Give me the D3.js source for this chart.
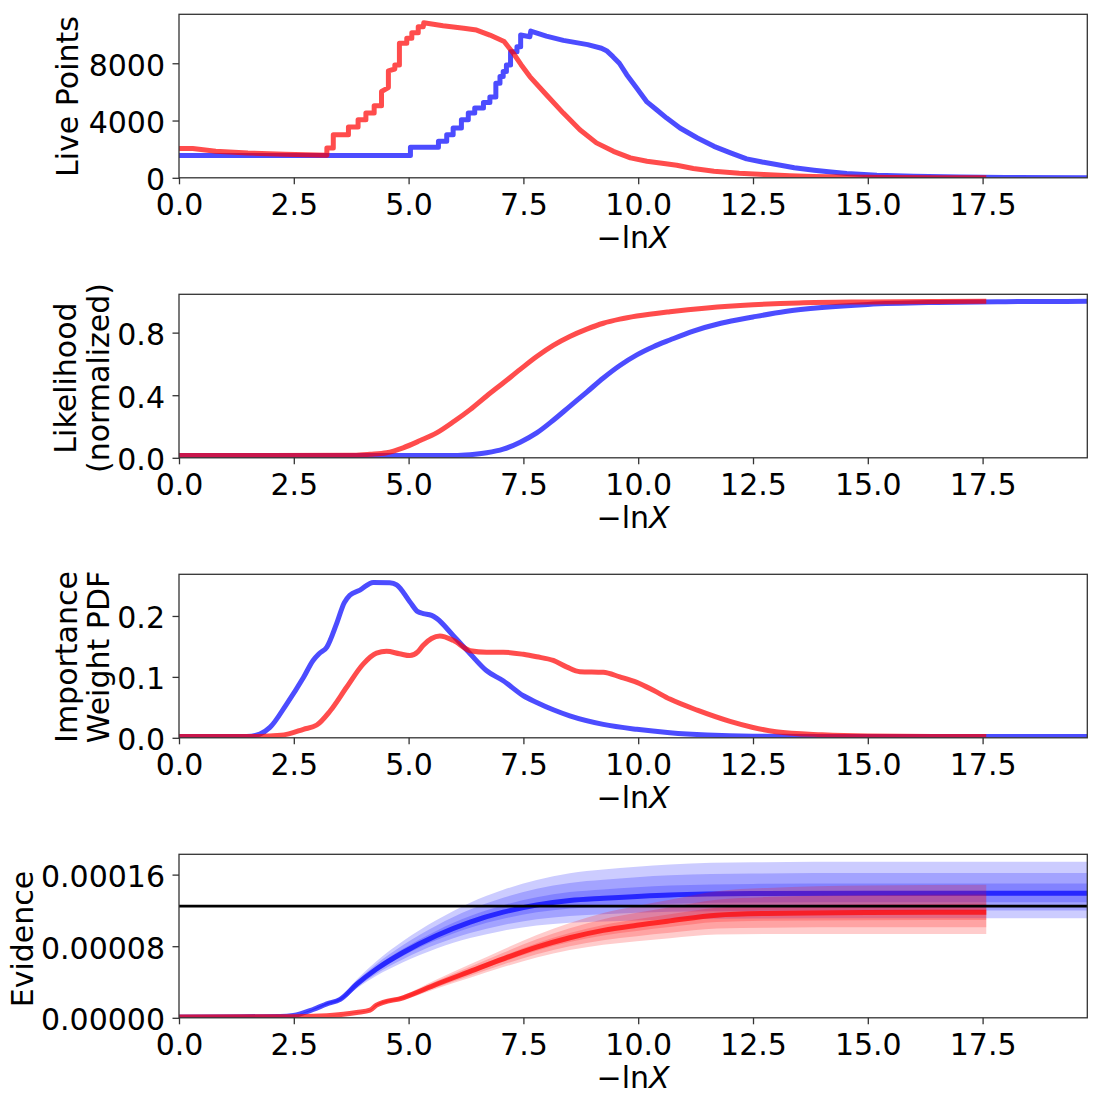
<!DOCTYPE html>
<html>
<head>
<meta charset="utf-8">
<script src="https://cdn.jsdelivr.net/npm/d3@7"></script>
<style>
  body { margin: 0; background: #fff; }
  svg { font-family: "DejaVu Sans", sans-serif; }
</style>
</head>
<body>
<div id="chart"></div>
<script>
// x axis: -ln X
const xTickVals = [0, 2.5, 5, 7.5, 10, 12.5, 15, 17.5];
const lnXMax = 19.78;

// live points [-lnX, n]
const liveBlue = [[0,1550],[5.04,1550],[5.04,2130],[5.65,2130],[5.65,2550],[5.83,2550],[5.83,3010],[5.97,3010],[5.97,3480],[6.15,3480],[6.15,4060],[6.30,4060],[6.30,4520],[6.44,4520],[6.44,4870],[6.63,4870],[6.63,5260],[6.77,5260],[6.77,5640],[6.90,5640],[6.90,6610],[6.99,6610],[6.99,7070],[7.06,7070],[7.06,7420],[7.13,7420],[7.13,7880],[7.22,7880],[7.22,8810],[7.36,8810],[7.36,9160],[7.44,9160],[7.44,9970],[7.64,9850],[7.66,10250],[8.0,9900],[8.37,9600],[8.9,9300],[9.2,9050],[9.31,8880],[9.45,8460],[9.59,8000],[9.75,7200],[9.97,6260],[10.19,5300],[10.40,4750],[10.62,4170],[10.91,3480],[11.29,2780],[11.65,2200],[12.01,1740],[12.36,1320],[12.7,1100],[13.01,925],[13.4,700],[13.83,530],[14.2,400],[14.54,300],[15.2,180],[16,100],[17,50],[18,25],[19.78,12]];
const liveRed = [[0,2050],[0.3,2050],[0.8,1860],[1.5,1730],[2.3,1640],[3.22,1580],[3.22,2090],[3.36,2090],[3.36,3010],[3.69,3010],[3.69,3550],[3.90,3550],[3.90,4060],[4.07,4060],[4.07,4520],[4.25,4520],[4.25,5030],[4.41,5030],[4.41,6030],[4.56,6300],[4.56,7470],[4.70,7600],[4.70,7880],[4.80,7880],[4.80,9390],[4.96,9390],[4.96,9740],[5.07,9740],[5.07,10130],[5.21,10130],[5.21,10550],[5.32,10550],[5.33,10830],[5.75,10620],[6.2,10450],[6.48,10320],[6.77,9970],[7.08,9520],[7.28,8700],[7.45,7900],[7.64,7070],[8.0,5800],[8.37,4520],[8.73,3360],[9.09,2440],[9.46,1850],[9.83,1390],[10.19,1155],[10.6,980],[10.84,880],[11.2,650],[11.65,460],[12.2,320],[12.74,230],[13.3,150],[13.81,90],[14.5,50],[15.5,25],[16.5,12],[17.58,5]];
const liveTicks = [0, 4000, 8000];

// normalized likelihood
const likeBlue = [[0,0.015],[6.0,0.015],[6.34,0.02],[6.7,0.032],[7.06,0.055],[7.43,0.1],[7.79,0.159],[8.15,0.24],[8.51,0.329],[8.88,0.42],[9.24,0.51],[9.6,0.59],[9.97,0.658],[10.33,0.71],[10.69,0.753],[11.2,0.81],[11.8,0.86],[12.5,0.9],[13.2,0.935],[14,0.96],[15,0.98],[16.5,0.993],[18,0.998],[19.78,1.0]];
const likeRed = [[0,0.015],[3.8,0.016],[4.16,0.022],[4.52,0.032],[4.88,0.064],[5.25,0.11],[5.61,0.159],[6.0,0.235],[6.34,0.308],[6.7,0.395],[7.06,0.478],[7.43,0.565],[7.79,0.647],[8.15,0.718],[8.51,0.775],[8.88,0.822],[9.24,0.86],[9.6,0.886],[9.97,0.906],[10.69,0.934],[11.5,0.958],[12.5,0.978],[13.5,0.99],[15,0.996],[17.58,1.0]];
const likeTicks = [0, 0.4, 0.8];

// importance weight PDF
const wtBlue = [[0,0.002],[1.47,0.002],[1.76,0.006],[1.98,0.017],[2.34,0.055],[2.71,0.099],[2.92,0.127],[3.05,0.138],[3.22,0.149],[3.43,0.187],[3.6,0.222],[3.72,0.234],[3.94,0.2425],[4.23,0.255],[4.59,0.2545],[4.74,0.251],[5.03,0.223],[5.2,0.207],[5.32,0.204],[5.5,0.201],[5.61,0.196],[5.97,0.168],[6.34,0.138],[6.7,0.110],[7.06,0.0937],[7.5,0.069],[7.79,0.058],[8.15,0.046],[8.51,0.036],[9.24,0.022],[9.97,0.0139],[10.69,0.0083],[11.5,0.0045],[12.5,0.0025],[14,0.002],[19.78,0.002]];
const wtRed = [[0,0.002],[1.7,0.002],[1.98,0.003],[2.34,0.0056],[2.71,0.014],[3.0,0.021],[3.29,0.044],[3.65,0.083],[4.01,0.121],[4.30,0.139],[4.52,0.142],[4.8,0.138],[5.03,0.135],[5.2,0.141],[5.32,0.152],[5.5,0.163],[5.68,0.167],[5.97,0.160],[6.34,0.143],[6.7,0.1405],[7.06,0.1405],[7.5,0.137],[7.79,0.133],[8.15,0.127],[8.45,0.116],[8.73,0.1086],[9.24,0.1075],[9.6,0.1],[9.97,0.091],[10.33,0.078],[10.69,0.0635],[11.3,0.045],[12,0.027],[12.5,0.017],[13,0.010],[14,0.005],[15,0.003],[17.58,0.002]];
const wtTicks = [0, 0.1, 0.2];

// evidence [-lnX, Z, sigma(lnZ)]
const evBlue = [[0,0.1e-5,0],[2.2,0.15e-5,0.02],[2.49,0.25e-5,0.025],[2.92,0.93e-5,0.03],[3.22,1.56e-5,0.035],[3.51,2.06e-5,0.04],[3.87,3.75e-5,0.045],[4.30,5.45e-5,0.05],[4.88,7.3e-5,0.054],[5.61,9.2e-5,0.057],[6.34,10.7e-5,0.061],[7.06,11.8e-5,0.064],[7.79,12.6e-5,0.067],[8.51,13.1e-5,0.07],[9.24,13.35e-5,0.072],[10.69,13.73e-5,0.074],[12.5,13.88e-5,0.075],[15,13.92e-5,0.075],[19.78,13.93e-5,0.075]];
const evRed = [[0,0.1e-5,0],[2.5,0.12e-5,0.01],[3.07,0.2e-5,0.02],[3.58,0.4e-5,0.025],[3.87,0.6e-5,0.028],[4.16,0.85e-5,0.03],[4.30,1.41e-5,0.032],[4.88,2.24e-5,0.04],[5.61,3.75e-5,0.045],[6.34,5.18e-5,0.048],[7.06,6.58e-5,0.05],[7.79,7.89e-5,0.053],[8.51,8.95e-5,0.056],[9.24,9.77e-5,0.06],[9.97,10.34e-5,0.063],[10.69,10.83e-5,0.066],[11.71,11.47e-5,0.07],[12.8,11.66e-5,0.073],[14.97,11.77e-5,0.076],[17.58,11.8e-5,0.077]];
const evTruth = 12.49e-5;
const evTicks = [0, 8e-5, 16e-5];

const W = 1101, H = 1101;
const left = 179, right = 1087.3, panelH = 163.5;
const tops = [14.3, 294.3, 574.3, 854.3];
const fs = 30;
const BLUE = '#0000ff', RED = '#ff0000', AX = '#333333';

const svg = d3.select('#chart').append('svg').attr('width', W).attr('height', H);
const x = d3.scaleLinear().domain([0, lnXMax]).range([left, right]);

const panels = [
  { yMax: 11420, ticks: liveTicks, fmt: d3.format('d'), label: ['Live Points'], labX: [78], labY: 96.5,
    series: [liveBlue, liveRed], curve: d3.curveLinear },
  { yMax: 1.045, ticks: likeTicks, fmt: d3.format('.1f'), label: ['Likelihood', '(normalized)'], labX: [76, 108.5], labY: 378,
    series: [likeBlue, likeRed], curve: d3.curveMonotoneX },
  { yMax: 0.2684, ticks: wtTicks, fmt: d3.format('.1f'), label: ['Importance', 'Weight PDF'], labX: [76.5, 108.5], labY: 657,
    series: [wtBlue, wtRed], curve: d3.curveMonotoneX },
  { yMax: 18.27e-5, ticks: evTicks, fmt: d3.format('.5f'), label: ['Evidence'], labX: [33], labY: 939,
    evidence: [evBlue, evRed], curve: d3.curveMonotoneX }
];

panels.forEach((p, i) => {
  const top = tops[i];
  const y = d3.scaleLinear().domain([0, p.yMax]).range([top + panelH, top]);
  const g = svg.append('g');

  g.append('clipPath').attr('id', 'clip' + i)
    .append('rect').attr('x', left).attr('y', top).attr('width', right - left).attr('height', panelH);
  const plot = g.append('g').attr('clip-path', `url(#clip${i})`);

  const line = d3.line().x(d => x(d[0])).y(d => y(d[1])).curve(p.curve);
  const colors = [BLUE, RED];

  if (p.series) {
    p.series.forEach((s, k) => {
      plot.append('path').datum(s).attr('d', line)
        .attr('fill', 'none').attr('stroke', colors[k]).attr('stroke-opacity', 0.7)
        .attr('stroke-width', 5).attr('stroke-linejoin', 'round');
    });
  } else {
    p.evidence.forEach((s, k) => {
      [1, 2, 3].forEach(n => {
        const area = d3.area().x(d => x(d[0])).curve(p.curve)
          .y0(d => y(d[1] * Math.exp(-n * d[2])))
          .y1(d => y(d[1] * Math.exp(n * d[2])));
        plot.append('path').datum(s).attr('d', area)
          .attr('fill', colors[k]).attr('fill-opacity', 0.2);
      });
      plot.append('path').datum(s).attr('d', line)
        .attr('fill', 'none').attr('stroke', colors[k]).attr('stroke-opacity', 0.7)
        .attr('stroke-width', 5).attr('stroke-linejoin', 'round');
    });
    plot.append('line').attr('x1', left).attr('x2', right)
      .attr('y1', y(evTruth)).attr('y2', y(evTruth))
      .attr('stroke', '#000').attr('stroke-width', 2.8);
  }

  // axes
  const xa = g.append('g').attr('transform', `translate(0,${top + panelH})`)
    .call(d3.axisBottom(x).tickValues(xTickVals).tickFormat(d3.format('.1f')).tickSize(6.5).tickSizeOuter(0));
  const ya = g.append('g').attr('transform', `translate(${left},0)`)
    .call(d3.axisLeft(y).tickValues(p.ticks).tickFormat(p.fmt).tickSize(6.5).tickSizeOuter(0));
  [xa, ya].forEach(a => {
    a.attr('font-family', null).attr('font-size', null);
    a.select('.domain').remove();
    a.selectAll('line').attr('stroke', AX).attr('stroke-width', 1.3);
    a.selectAll('text').attr('fill', '#000').style('font-size', fs + 'px');
  });
  xa.selectAll('text').attr('y', 37.4).attr('dy', 0);
  ya.selectAll('text').attr('x', -14).attr('dy', '0.4em');

  g.append('rect').attr('x', left).attr('y', top).attr('width', right - left).attr('height', panelH)
    .attr('fill', 'none').attr('stroke', AX).attr('stroke-width', 1.3);

  // x label
  const xl = g.append('text').attr('x', (left + right) / 2).attr('y', top + panelH + 70)
    .attr('text-anchor', 'middle').style('font-size', fs + 'px');
  xl.append('tspan').text('\u2212ln');
  xl.append('tspan').attr('font-style', 'italic').text('X');

  // y label
  p.label.forEach((t, k) => {
    g.append('text').attr('transform', `translate(${p.labX[k]},${p.labY}) rotate(-90)`)
      .attr('text-anchor', 'middle').style('font-size', fs + 'px').text(t);
  });
});
</script>
</body>
</html>
